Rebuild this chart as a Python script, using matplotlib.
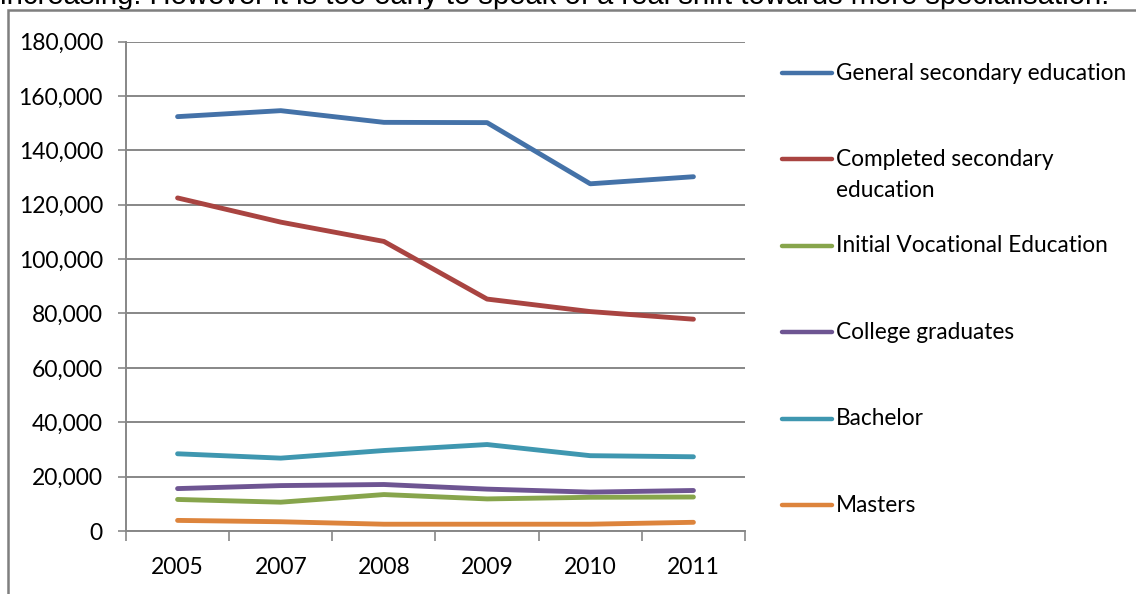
import matplotlib
matplotlib.use("Agg")
import matplotlib.pyplot as plt
from matplotlib.lines import Line2D
from matplotlib.patches import Rectangle
import numpy as np

# --- data -------------------------------------------------------------
years = ["2005", "2007", "2008", "2009", "2010", "2011"]

general_secondary = [152400, 154600, 150300, 150200, 127700, 130300]
completed_secondary = [122500, 113600, 106500, 85300, 80700, 77900]
initial_vocational = [11600, 10600, 13400, 11800, 12400, 12500]
college_graduates = [15600, 16700, 17100, 15400, 14300, 14900]
bachelor = [28400, 26800, 29600, 31800, 27700, 27300]
masters = [3900, 3400, 2500, 2500, 2500, 3200]

series_names = [
    "General secondary education",
    "Completed secondary\neducation",
    "Initial Vocational Education",
    "College graduates",
    "Bachelor",
    "Masters",
]
series_values = [general_secondary, completed_secondary, initial_vocational,
                 college_graduates, bachelor, masters]
series_colors = ["#4472A8", "#A94441", "#87A54C", "#6E5592", "#3F97B0", "#DD843C"]

y_ticks = list(range(0, 180001, 20000))

caption = ("increasing. However it is too early to speak of a real shift "
           "towards more specialisation.")

# --- figure -----------------------------------------------------------
W, H = 1136, 594
fig = plt.figure(figsize=(W / 100, H / 100), dpi=100)
fig.patch.set_facecolor("white")

def fx(px):
    return px / W

def fy(py):
    return 1 - py / H

# running text above the framed chart (partly hidden under the frame)
cap = fig.text(fx(0), fy(4), caption, family="Liberation Sans", fontsize=17,
               ha="left", va="baseline", color="#000000", zorder=0)
fig.canvas.draw()
renderer = fig.canvas.get_renderer()
w = cap.get_window_extent(renderer).width
cap.set_fontsize(17 * 1113 / w)

# white frame with grey top/left border
frame = Rectangle((fx(8), -0.1), 1.2, fy(10) + 0.1, transform=fig.transFigure,
                  facecolor="white", edgecolor="#7f7f7f", linewidth=1.8,
                  zorder=0.5)
fig.patches.append(frame)

# plot area
left, right, top, bottom = 126, 745, 41.6, 531
ax = fig.add_axes([fx(left), fy(bottom), fx(right - left), (bottom - top) / H])
ax.set_zorder(2)
ax.patch.set_alpha(0)

label_font = "Lato"
label_size = 16.5
grid_c = "#878787"

for vals, col in zip(series_values, series_colors):
    ax.plot(years, vals, color=col, linewidth=3.5, solid_capstyle="round",
            solid_joinstyle="round", zorder=3)

ax.set_ylim(0, 180000)
ax.set_xlim(-0.5, len(years) - 0.5)
ax.set_yticks(y_ticks)
ax.set_yticklabels([f"{v:,}" for v in y_ticks], family=label_font,
                   fontsize=label_size)
ax.yaxis.grid(True, color=grid_c, linewidth=1.4)
ax.tick_params(axis="y", length=5.8, width=1.2, color=grid_c, pad=10.8)

# category boundaries carry the tick marks, labels sit at category centres
ax.set_xticks(np.arange(-0.5, len(years), 1.0))
ax.set_xticklabels([])
ax.set_xticks(np.arange(len(years)), minor=True)
ax.set_xticklabels(years, minor=True, family=label_font, fontsize=label_size)
ax.tick_params(axis="x", which="major", length=7.2, width=1.2, color=grid_c)
ax.tick_params(axis="x", which="minor", length=0, pad=18.5)

for s in ("top", "right"):
    ax.spines[s].set_visible(False)
for s in ("left", "bottom"):
    ax.spines[s].set_color(grid_c)
    ax.spines[s].set_linewidth(1.4)
ax.set_axisbelow(True)

# legend on the right
leg_y0, leg_step = 73, 86.4
for i, (name, col) in enumerate(zip(series_names, series_colors)):
    y = leg_y0 + i * leg_step
    fig.add_artist(Line2D([fx(782), fx(832)], [fy(y), fy(y)], color=col,
                          linewidth=3.2, solid_capstyle="round",
                          transform=fig.transFigure, zorder=3))
    fig.text(fx(836), fy(y - 10.5), name, family=label_font, fontsize=16.3,
             ha="left", va="top", linespacing=1.6, color="#000000", zorder=3)

fig.savefig("out.png", dpi=100, facecolor="white")
